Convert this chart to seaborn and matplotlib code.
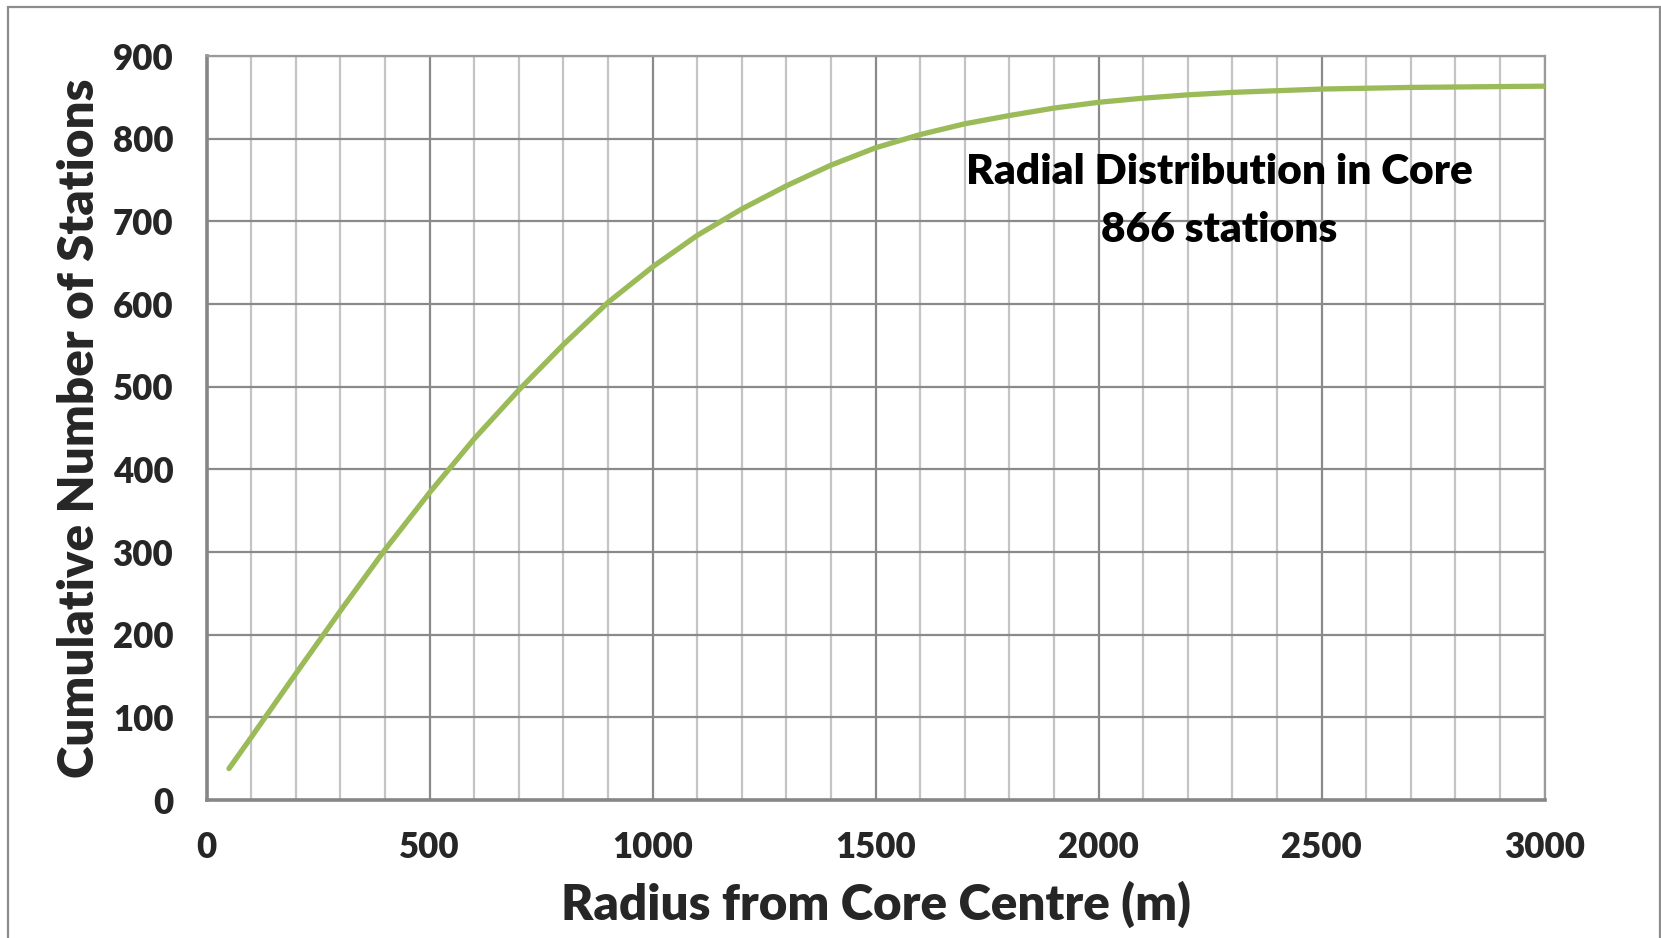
import numpy as np
import pandas as pd
import matplotlib.pyplot as plt
import seaborn as sns
from matplotlib.patches import Rectangle

# Values
radius = [50, 100, 200, 300, 400, 500, 600, 700, 800, 900, 1000,
          1100, 1200, 1300, 1400, 1500, 1600, 1700, 1800, 1900, 2000,
          2100, 2200, 2300, 2400, 2500, 2600, 2700, 2800, 2900, 3000]
stations = [38, 76, 153, 229, 303, 372, 437, 496, 551, 602, 645,
            683, 715, 743, 768, 789, 805, 818, 828, 837, 844,
            849, 853, 856, 858, 860, 861, 862, 862.5, 863, 863.5]
x_ticks = [0, 500, 1000, 1500, 2000, 2500, 3000]
y_ticks = [0, 100, 200, 300, 400, 500, 600, 700, 800, 900]
note_lines = ['Radial Distribution in Core', '866 stations']

data = pd.DataFrame({'radius': radius, 'stations': stations})

sns.set_style('white')
plt.rcParams['font.family'] = ['Lato', 'DejaVu Sans']

W, H = 1661, 938
fig = plt.figure(figsize=(W / 100, H / 100), dpi=100)
fig.patch.set_facecolor('white')

# outer chart border (bottom edge is cropped in the reference)
fig.patches.append(Rectangle((8 / W, -0.05), (1660 - 8) / W, 1 - 7 / H + 0.05,
                             transform=fig.transFigure, fill=False,
                             edgecolor='#8c8c8c', linewidth=1.6))

ax = fig.add_axes([206.7 / W, 1 - 800 / H, 1337.9 / W, 744 / H])

sns.lineplot(data=data, x='radius', y='stations', ax=ax, color='#9bbb59',
             linewidth=3.8, solid_capstyle='round', solid_joinstyle='round',
             zorder=3)

ax.set_xlim(0, 3000)
ax.set_ylim(0, 900)
ax.set_xticks(x_ticks)
ax.set_xticks(np.arange(0, 3001, 100), minor=True)
ax.set_yticks(y_ticks)

ax.grid(which='minor', axis='x', color='#c4c4c4', linewidth=1.6)
ax.grid(which='major', axis='x', color='#8a8a8a', linewidth=1.6)
ax.grid(which='major', axis='y', color='#8a8a8a', linewidth=1.6)
ax.set_axisbelow(True)

for side in ['top', 'right']:
    ax.spines[side].set_color('#9a9a9a')
    ax.spines[side].set_linewidth(1.6)
for side in ['left', 'bottom']:
    ax.spines[side].set_color('#868686')
    ax.spines[side].set_linewidth(2.6)

ax.tick_params(axis='x', which='both', direction='in', length=5, width=2.2,
               color='#868686', pad=22, labelsize=25)
ax.tick_params(axis='y', which='both', length=0, pad=24, labelsize=25)
for lab in ax.get_xticklabels() + ax.get_yticklabels():
    lab.set_fontweight('heavy')

ax.set_xlabel('Radius from Core Centre (m)', fontsize=35.5, fontweight='heavy',
              labelpad=12)
ax.set_ylabel('Cumulative Number of Stations', fontsize=35.5, fontweight='heavy',
              labelpad=8)

ax.text(2271, 760, note_lines[0], ha='center', va='center', fontsize=30.5,
        fontweight='heavy', color='black')
ax.text(2271, 690, note_lines[1], ha='center', va='center', fontsize=30.5,
        fontweight='heavy', color='black')

fig.savefig('out.png', dpi=100, facecolor='white')
